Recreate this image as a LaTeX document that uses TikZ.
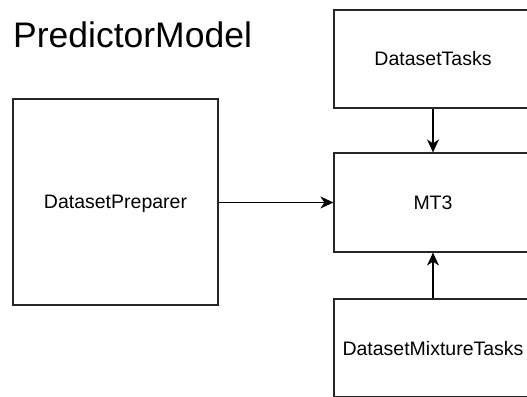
\documentclass[tikz,border=0pt]{standalone}
\usepackage{fontspec}
\setmainfont{Liberation Sans}
\usetikzlibrary{arrows.meta}
\begin{document}
\begin{tikzpicture}[
            x=1pt, y=1pt,
            block/.style={rectangle, draw=black!85, line width=1.2pt, inner sep=0pt, text height=14pt, text depth=0pt, font=\fontsize{19.5}{23}\selectfont},
            link/.style={line width=1.2pt, -{Stealth[length=13pt, width=12pt, inset=4pt]}}
        ]
            \useasboundingbox (0,0) rectangle (527,396);
            \node[anchor=base west, inner sep=0pt, font=\fontsize{35.5}{40}\selectfont] (title) at (13,348) {PredictorModel};

            \node[block, minimum width=205pt, minimum height=206pt] (prep) at (115.5,194) {DatasetPreparer};
            \node[block, minimum width=198pt, minimum height=98pt] (tasks) at (433,337) {DatasetTasks};
            \node[block, minimum width=198pt, minimum height=99pt] (mt) at (433,193.5) {MT3};
            \node[block, minimum width=198pt, minimum height=98pt] (mix) at (433,48) {DatasetMixtureTasks};

            \draw[link] (prep.east |- mt.west) -- (mt.west);
            \draw[link] (tasks) -- (mt);
            \draw[link] (mix) -- (mt);
        \end{tikzpicture}
\end{document}
